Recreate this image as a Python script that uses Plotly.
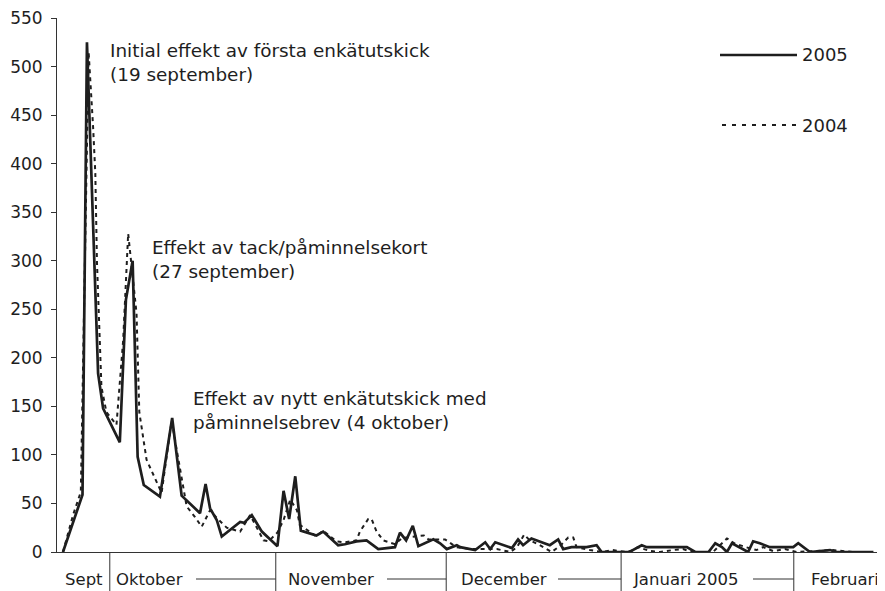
import plotly.graph_objects as go

# ---------------- data ----------------
# x = days after the first plotted day
days_2005 = [0.0, 3.5, 4.3, 6.3, 7.2, 10.2, 11.3, 12.5, 13.4, 14.5, 17.4, 19.6, 21.3, 24.6,
             25.6, 26.4, 27.6, 28.5, 31.8, 32.5, 33.9, 35.7, 38.5, 39.6, 40.6, 41.7, 42.7,
             45.5, 46.7, 49.4, 50.6, 52.7, 54.5, 56.6, 59.6, 60.5, 61.6, 62.8, 63.8, 66.5,
             67.7, 68.9, 70.7, 71.3, 74.0, 75.8, 76.7, 77.6, 80.6, 81.7, 82.6, 84.1, 87.4,
             88.9, 89.8, 91.3, 94.0, 95.8, 96.7, 101.8, 102.3, 103.9, 104.8, 112.0, 113.5,
             115.9, 117.1, 118.3, 119.2, 120.1, 123.0, 123.9, 125.1, 126.9, 131.1, 132.0,
             134.1, 137.7, 138.9, 145.5]
vals_2005 = [0, 59, 525, 184, 148, 113, 260, 300, 98, 69, 57, 138, 58, 40,
             70, 45, 33, 16, 31, 30, 38, 21, 6, 63, 34, 78, 22,
             17, 21, 7, 8, 11, 12, 3, 5, 20, 12, 27, 6, 13,
             9, 3, 7, 5, 2, 10, 3, 10, 4, 13, 7, 14, 7,
             13, 3, 5, 5, 7, 0, 0, 2, 7, 5, 5, 0,
             0, 9, 5, 0, 9, 0, 11, 9, 5, 5, 9,
             0, 2, 0, 0]

days_2004 = [0.0, 1.8, 3.2, 4.6, 5.4, 5.8, 6.1, 6.9, 7.8, 9.6, 10.8, 11.7, 13.2, 13.7, 15.0,
             16.8, 17.7, 19.5, 21.3, 22.2, 23.7, 24.9, 26.4, 27.6, 29.4, 31.8, 33.6, 36.0,
             36.9, 38.5, 39.6, 40.8, 42.0, 42.5, 45.5, 46.7, 49.1, 50.6, 52.7, 53.3, 54.8,
             55.4, 56.3, 57.5, 59.6, 60.8, 61.7, 64.8, 65.6, 68.0, 68.6, 70.6, 73.1, 75.8,
             77.9, 80.3, 81.5, 82.8, 83.8, 85.6, 87.7, 89.2, 90.7, 91.6, 92.2, 94.6, 96.9,
             98.7, 101.2, 102.3, 103.2, 105.4, 107.2, 109.5, 111.3, 112.9, 116.7, 119.2,
             120.5, 122.6, 124.5, 125.7, 127.5, 129.6, 131.7, 138.2, 141.8, 145.4]
vals_2004 = [0, 38, 62, 515, 438, 390, 298, 170, 144, 131, 218, 328, 246, 144, 95,
             72, 61, 135, 74, 47, 36, 26, 43, 35, 25, 21, 38, 12,
             11, 20, 33, 54, 43, 28, 16, 22, 11, 10, 12, 21, 34,
             34, 21, 12, 8, 14, 15, 17, 13, 13, 13, 5, 3, 3,
             3, 0, 5, 18, 12, 7, 0, 6, 15, 15, 5, 2, 0,
             2, 0, 2, 5, 1, 0, 2, 3, 0, 0, 14,
             9, 5, 2, 5, 1, 3, 0, 2, 0, 0]

series_names = ["2005", "2004"]
month_labels = ["Sept", "Oktober", "November", "December", "Januari 2005", "Februari"]
month_starts = [8.4, 38.2, 68.8, 100.2, 131.2]   # day of each month boundary
y_ticks = list(range(0, 551, 50))

notes = [
    "Initial effekt av första enkätutskick<br>(19 september)",
    "Effekt av tack/påminnelsekort<br>(27 september)",
    "Effekt av nytt enkätutskick med<br>påminnelsebrev (4 oktober)",
]

# ---------------- layout helpers ----------------
# the page body has an 8px margin, so the figure is drawn 8px smaller
OFF = 8
W, H = 885 - OFF, 591 - OFF
PL, PR, PT, PB = 57 - OFF, 883 - OFF, 18 - OFF, 552 - OFF
PX_PER_DAY = 5.57
X0_PX = 63 - OFF
x_range = [(PL - X0_PX) / PX_PER_DAY, (PR - X0_PX) / PX_PER_DAY]


def pxx(px_ref):
    return (px_ref - OFF - PL) / (PR - PL)


def pxy(py_ref):
    return (PB - (py_ref - OFF)) / (PB - PT)


def day_px(d):
    # reference-image x pixel of a day value
    return X0_PX + OFF + d * PX_PER_DAY


INK = "#1e1e1e"
FONT = "DejaVu Sans"

fig = go.Figure()
fig.add_trace(go.Scatter(x=days_2004, y=vals_2004, mode="lines", name=series_names[1],
                         line=dict(color=INK, width=2, dash="4px,4px"), showlegend=False))
fig.add_trace(go.Scatter(x=days_2005, y=vals_2005, mode="lines", name=series_names[0],
                         line=dict(color=INK, width=2.7), showlegend=False))

shapes = []
annotations = []

# month boundaries below the axis
for d in month_starts:
    xp = pxx(day_px(d))
    shapes.append(dict(type="line", xref="paper", yref="paper", x0=xp, x1=xp,
                       y0=0, y1=pxy(591), line=dict(color="#333", width=1)))

label_y = pxy(579)
# month labels (left edge in reference pixels; Sept is centred)
label_left_px = [84, 114, 286, 459, 631, 809]
for i, (lab, lp) in enumerate(zip(month_labels, label_left_px)):
    annotations.append(dict(text=lab, xref="paper", yref="paper", x=pxx(lp),
                            y=label_y, xanchor="center" if i == 0 else "left",
                            yanchor="middle", showarrow=False,
                            font=dict(family=FONT, size=16.5, color=INK)))

# connector lines after labels
line_starts_px = [196, 387, 558, 753]
for i, sp in enumerate(line_starts_px):
    end = day_px(month_starts[i + 1])
    shapes.append(dict(type="line", xref="paper", yref="paper", x0=pxx(sp), x1=pxx(end),
                       y0=label_y, y1=label_y, line=dict(color="#333", width=1)))

# event notes
note_pos = [(108, 63), (150, 259), (191, 410)]
for t, (px, py) in zip(notes, note_pos):
    annotations.append(dict(text=t, xref="paper", yref="paper", x=pxx(px), y=pxy(py),
                            xanchor="left", yanchor="middle", align="left", showarrow=False,
                            font=dict(family=FONT, size=18.4, color=INK)))

# legend drawn by hand
shapes.append(dict(type="line", xref="paper", yref="paper", x0=pxx(720), x1=pxx(797),
                   y0=pxy(55), y1=pxy(55), line=dict(color=INK, width=2.7)))
shapes.append(dict(type="line", xref="paper", yref="paper", x0=pxx(722), x1=pxx(797),
                   y0=pxy(125), y1=pxy(125), line=dict(color=INK, width=2, dash="4px,6px")))
for name, py in zip(series_names, [55, 125]):
    annotations.append(dict(text=name, xref="paper", yref="paper", x=pxx(800), y=pxy(py),
                            xanchor="left", yanchor="middle", showarrow=False,
                            font=dict(family=FONT, size=18, color=INK)))

fig.update_layout(
    width=W, height=H,
    margin=dict(l=PL, r=W - PR, t=PT, b=H - PB, autoexpand=False),
    paper_bgcolor="white", plot_bgcolor="white",
    shapes=shapes, annotations=annotations,
    xaxis=dict(range=x_range, showline=True, linecolor="#333", linewidth=1,
               showgrid=False, zeroline=False, showticklabels=False, ticks="",
               automargin=False),
    yaxis=dict(range=[0, 550], tickvals=y_ticks, ticks="outside", ticklen=5,
               tickcolor="#333", showline=True, linecolor="#333", linewidth=1,
               showgrid=False, zeroline=False, ticklabelstandoff=5,
               ticklabeloverflow="allow", automargin=False,
               tickfont=dict(family=FONT, size=17, color=INK)),
)

fig.write_html("out.html")
